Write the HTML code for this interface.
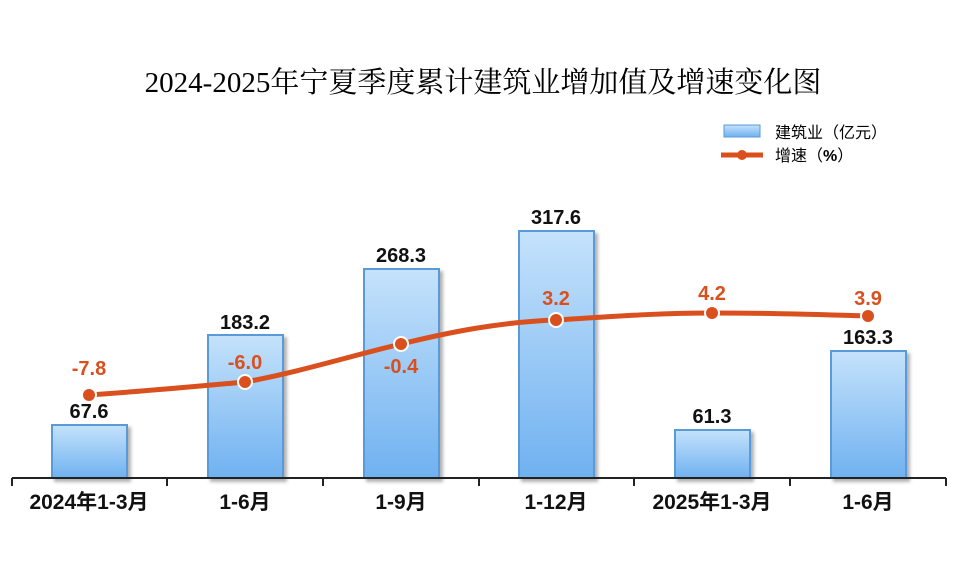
<!DOCTYPE html>
<html><head><meta charset="utf-8"><style>
body{margin:0;background:#fff;width:976px;height:559px;overflow:hidden}
text{font-family:"Liberation Sans","Noto Sans CJK SC",sans-serif}
</style></head><body>
<svg width="976" height="559" xmlns="http://www.w3.org/2000/svg">
<defs>
<linearGradient id="g" x1="0" y1="0" x2="0" y2="1"><stop offset="0" stop-color="#c5e2fb"/><stop offset="1" stop-color="#6fb1f0"/></linearGradient>
<filter id="s" x="-10%" y="-10%" width="130%" height="130%"><feDropShadow dx="3" dy="3" stdDeviation="1.5" flood-color="#000" flood-opacity="0.3"/></filter>
</defs>
<text x="483" y="92" text-anchor="middle" font-size="29" style="font-family:'Liberation Serif','Noto Serif CJK SC',serif">2024-2025年宁夏季度累计建筑业增加值及增速变化图</text>
<rect x="724" y="125" width="36" height="12" fill="url(#g)" stroke="#5a9ad8"/>
<text x="775" y="138" font-size="16">建筑业（亿元）</text>
<line x1="721" y1="155" x2="763" y2="155" stroke="#d9501e" stroke-width="5"/>
<circle cx="742" cy="155" r="5" fill="#d9501e"/>
<text x="775" y="161" font-size="16">增速（<tspan font-weight="bold">%</tspan>）</text>
<g fill="url(#g)" stroke="#5a9ad8" stroke-width="2" filter="url(#s)">
<rect x="52" y="425" width="75" height="53"/>
<rect x="208" y="335" width="75" height="143"/>
<rect x="364" y="269" width="75" height="209"/>
<rect x="519" y="231" width="75" height="247"/>
<rect x="675" y="430" width="75" height="48"/>
<rect x="831" y="351" width="75" height="127"/>
</g>
<g stroke="#222" stroke-width="2"><line x1="12" y1="478" x2="946" y2="478"/>
<line x1="12" y1="478" x2="12" y2="486"/><line x1="167" y1="478" x2="167" y2="486"/><line x1="323" y1="478" x2="323" y2="486"/><line x1="479" y1="478" x2="479" y2="486"/><line x1="634" y1="478" x2="634" y2="486"/><line x1="790" y1="478" x2="790" y2="486"/><line x1="946" y1="478" x2="946" y2="486"/></g>
<path d="M89,395 C160,390 200,386 245,382 C300,372 350,356 401,344 C450,332 500,322 556,320 C620,316 660,313 712,313 C780,313 830,315 868,316" fill="none" stroke="#d9501e" stroke-width="5"/>
<g fill="#d9501e" stroke="#fff" stroke-width="2"><circle cx="89" cy="395" r="7"/><circle cx="245" cy="382" r="7"/><circle cx="401" cy="344" r="7"/><circle cx="556" cy="320" r="7"/><circle cx="712" cy="313" r="7"/><circle cx="868" cy="316" r="7"/></g>
<g font-size="20" font-weight="bold" text-anchor="middle" fill="#111">
<text x="89" y="418">67.6</text><text x="245" y="329">183.2</text><text x="401" y="262">268.3</text><text x="556" y="224">317.6</text><text x="712" y="423">61.3</text><text x="868" y="344">163.3</text>
</g>
<g font-size="20" font-weight="bold" text-anchor="middle" fill="#d9501e">
<text x="89" y="375">-7.8</text><text x="245" y="369">-6.0</text><text x="401" y="373">-0.4</text><text x="556" y="305">3.2</text><text x="712" y="300">4.2</text><text x="868" y="305">3.9</text>
</g>
<g font-size="21" font-weight="bold" text-anchor="middle" fill="#111">
<text x="89" y="509">2024年1-3月</text><text x="245" y="509">1-6月</text><text x="401" y="509">1-9月</text><text x="556" y="509">1-12月</text><text x="712" y="509">2025年1-3月</text><text x="868" y="509">1-6月</text>
</g>
</svg>
</body></html>
